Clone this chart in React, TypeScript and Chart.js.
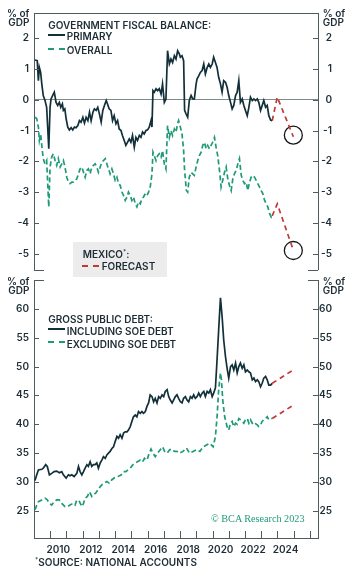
import React, { useEffect, useRef } from "react";
import { Chart, registerables } from "chart.js";

Chart.register(...registerables);

// ---------- data ----------
const X_MIN = 2009;
const X_MAX = 2026.5;

const yearTicks = [2010, 2011, 2012, 2013, 2014, 2015, 2016, 2017, 2018, 2019, 2020, 2021, 2022, 2023, 2024, 2025, 2026];
const yearLabels = [2010, 2012, 2014, 2016, 2018, 2020, 2022, 2024];
const balanceTicks = [-5, -4, -3, -2, -1, 0, 1, 2];
const debtTicks = [25, 30, 35, 40, 45, 50, 55, 60];

const primaryBalance: [number, number][] = [
  [2009.06, 1.28], [2009.2, 1.26], [2009.27, 0.61], [2009.33, 1.04], [2009.41, 0.88], [2009.48, 0.51], [2009.57, 0.13], [2009.68, -0.03], [2009.78, -0.25], [2009.91, -1.59], [2009.99, -0.25], [2010.05, 0.02], [2010.19, 0.18], [2010.25, 0.24], [2010.36, -0.09], [2010.46, -0.19], [2010.56, -0.09], [2010.65, -0.25], [2010.75, -0.14], [2010.81, -0.35], [2010.9, -0.3], [2010.98, -0.62], [2011.08, -0.89], [2011.18, -0.98], [2011.29, -0.91], [2011.39, -0.98], [2011.49, -0.89], [2011.59, -0.91], [2011.7, -0.84], [2011.8, -0.68], [2011.9, -0.73], [2012.01, -0.57], [2012.11, -0.76], [2012.21, -0.57], [2012.32, -0.68], [2012.42, -0.41], [2012.52, -0.68], [2012.63, -0.41], [2012.72, -0.3], [2012.83, -0.35], [2012.93, -0.25], [2013.03, -0.46], [2013.14, -0.73], [2013.24, -0.35], [2013.34, -0.19], [2013.45, -0.03], [2013.53, -0.14], [2013.63, -0.3], [2013.74, -0.35], [2013.84, -0.68], [2013.94, -0.52], [2014.05, -0.78], [2014.15, -0.68], [2014.25, -0.95], [2014.36, -1.0], [2014.45, -1.16], [2014.56, -1.32], [2014.66, -1.48], [2014.76, -1.38], [2014.87, -1.27], [2014.97, -1.38], [2015.07, -1.16], [2015.18, -1.54], [2015.28, -1.22], [2015.38, -1.32], [2015.49, -1.16], [2015.59, -1.22], [2015.69, -1.05], [2015.79, -1.11], [2015.9, -1.0], [2016.0, -0.98], [2016.1, -0.89], [2016.21, -0.68], [2016.27, -0.89], [2016.33, 0.29], [2016.41, 0.24], [2016.52, 0.35], [2016.62, 0.29], [2016.72, 0.35], [2016.83, 0.18], [2016.92, 0.51], [2017.03, -0.09], [2017.13, 0.02], [2017.23, 1.58], [2017.34, 1.15], [2017.44, 1.31], [2017.54, 1.2], [2017.65, 1.42], [2017.75, 1.31], [2017.85, 1.58], [2017.96, 1.47], [2018.02, 1.37], [2018.12, 1.42], [2018.22, 1.26], [2018.28, -0.35], [2018.37, -0.46], [2018.47, -0.57], [2018.57, -0.03], [2018.68, 0.13], [2018.78, 0.02], [2018.88, 0.02], [2018.99, 0.51], [2019.05, 0.67], [2019.15, 0.77], [2019.25, 0.88], [2019.36, 0.94], [2019.46, 1.15], [2019.56, 0.83], [2019.67, 1.04], [2019.77, 1.15], [2019.87, 1.04], [2019.98, 1.15], [2020.07, 1.37], [2020.18, 1.2], [2020.28, 1.04], [2020.38, 0.72], [2020.49, 0.51], [2020.59, 0.24], [2020.69, 0.61], [2020.8, 0.56], [2020.9, 0.4], [2021.0, 0.13], [2021.11, -0.09], [2021.21, -0.3], [2021.31, -0.19], [2021.42, 0.13], [2021.52, 0.24], [2021.62, 0.61], [2021.72, -0.09], [2021.83, 0.02], [2021.93, -0.19], [2022.03, -0.35], [2022.14, -0.52], [2022.24, -0.25], [2022.34, 0.08], [2022.45, -0.03], [2022.55, 0.02], [2022.65, -0.03], [2022.76, 0.02], [2022.85, -0.09], [2022.96, -0.35], [2023.06, -0.19], [2023.16, -0.03], [2023.27, -0.25], [2023.37, -0.19], [2023.47, -0.52], [2023.58, -0.66], [2023.68, -0.68],
];

const overallBalance: [number, number][] = [
  [2009.06, -0.57], [2009.17, -0.62], [2009.27, -0.89], [2009.33, -1.32], [2009.41, -1.11], [2009.49, -1.54], [2009.57, -1.91], [2009.68, -2.08], [2009.78, -1.97], [2009.91, -3.47], [2009.99, -2.18], [2010.09, -1.86], [2010.19, -1.75], [2010.3, -1.97], [2010.4, -2.13], [2010.5, -1.91], [2010.61, -2.18], [2010.71, -2.08], [2010.81, -1.97], [2010.91, -2.18], [2011.02, -2.51], [2011.12, -2.67], [2011.22, -2.72], [2011.33, -2.67], [2011.43, -2.67], [2011.53, -2.61], [2011.64, -2.56], [2011.74, -2.4], [2011.84, -2.24], [2011.95, -2.18], [2012.05, -2.35], [2012.15, -2.51], [2012.26, -2.29], [2012.35, -2.24], [2012.46, -2.4], [2012.56, -2.18], [2012.66, -2.13], [2012.77, -2.08], [2012.87, -2.18], [2012.97, -2.35], [2013.08, -2.18], [2013.18, -2.02], [2013.28, -1.97], [2013.39, -1.91], [2013.49, -2.08], [2013.59, -2.24], [2013.69, -2.4], [2013.8, -2.24], [2013.9, -2.4], [2014.0, -2.61], [2014.11, -2.51], [2014.21, -2.72], [2014.31, -2.77], [2014.42, -2.99], [2014.52, -3.1], [2014.62, -3.26], [2014.73, -3.15], [2014.82, -2.99], [2014.93, -3.1], [2015.03, -3.26], [2015.13, -3.15], [2015.24, -3.37], [2015.34, -3.47], [2015.44, -3.31], [2015.55, -3.37], [2015.65, -3.2], [2015.75, -3.15], [2015.86, -3.04], [2015.96, -3.1], [2016.06, -2.99], [2016.16, -2.83], [2016.27, -2.4], [2016.33, -1.7], [2016.41, -1.81], [2016.52, -1.97], [2016.62, -1.81], [2016.72, -1.75], [2016.83, -1.86], [2016.92, -1.65], [2017.03, -2.08], [2017.13, -2.24], [2017.23, -0.84], [2017.34, -1.22], [2017.44, -1.0], [2017.54, -1.16], [2017.65, -0.95], [2017.75, -1.05], [2017.85, -0.78], [2017.91, -0.68], [2018.02, -0.89], [2018.12, -1.11], [2018.22, -1.65], [2018.28, -2.29], [2018.39, -2.94], [2018.47, -2.99], [2018.57, -2.51], [2018.68, -2.35], [2018.78, -2.4], [2018.88, -2.45], [2018.99, -2.18], [2019.09, -1.97], [2019.19, -1.81], [2019.3, -1.7], [2019.4, -1.48], [2019.5, -1.38], [2019.61, -1.59], [2019.7, -1.48], [2019.81, -1.59], [2019.91, -1.48], [2020.01, -1.38], [2020.12, -1.22], [2020.22, -1.54], [2020.32, -1.81], [2020.43, -2.29], [2020.53, -2.83], [2020.63, -2.61], [2020.74, -2.35], [2020.84, -2.18], [2020.94, -2.56], [2021.04, -2.77], [2021.15, -2.94], [2021.25, -2.56], [2021.35, -2.4], [2021.46, -2.29], [2021.56, -2.08], [2021.66, -1.91], [2021.77, -2.45], [2021.87, -2.61], [2021.97, -2.72], [2022.08, -2.67], [2022.17, -2.94], [2022.28, -2.67], [2022.38, -2.51], [2022.48, -2.45], [2022.59, -2.51], [2022.69, -2.61], [2022.79, -2.72], [2022.9, -2.83], [2023.0, -2.94], [2023.1, -3.04], [2023.21, -3.26], [2023.31, -3.37], [2023.41, -3.47], [2023.52, -3.69], [2023.62, -3.8], [2023.68, -3.76],
];

const primaryForecast: [number, number][] = [[2023.68, -0.68], [2023.99, 0.08], [2024.98, -1.2]];
const overallForecast: [number, number][] = [[2023.68, -3.76], [2023.99, -3.37], [2024.98, -4.87]];
const forecastMarkers: [number, number][] = [[2024.98, -1.15], [2024.98, -4.88]];

const debtIncluding: [number, number][] = [
  [2009.06, 30.25], [2009.17, 31.24], [2009.27, 32.1], [2009.48, 32.2], [2009.57, 32.4], [2009.72, 33.0], [2009.82, 32.7], [2009.95, 31.24], [2010.09, 31.5], [2010.24, 31.8], [2010.4, 31.9], [2010.56, 31.6], [2010.71, 31.8], [2010.81, 31.24], [2010.98, 30.67], [2011.12, 31.24], [2011.22, 31.07], [2011.33, 31.24], [2011.47, 30.95], [2011.64, 31.5], [2011.74, 32.7], [2011.84, 31.8], [2011.95, 31.24], [2012.05, 31.8], [2012.15, 32.4], [2012.26, 33.0], [2012.35, 32.7], [2012.46, 33.5], [2012.56, 32.7], [2012.66, 33.0], [2012.77, 33.0], [2012.87, 33.3], [2012.97, 32.4], [2013.08, 33.3], [2013.18, 33.8], [2013.28, 34.4], [2013.39, 34.1], [2013.49, 34.7], [2013.59, 35.0], [2013.69, 35.3], [2013.8, 35.8], [2013.9, 36.1], [2014.0, 37.0], [2014.11, 37.9], [2014.21, 37.6], [2014.31, 38.2], [2014.42, 37.6], [2014.52, 38.5], [2014.62, 38.7], [2014.73, 38.7], [2014.82, 39.0], [2014.93, 39.6], [2015.03, 40.5], [2015.13, 41.3], [2015.24, 41.6], [2015.34, 41.3], [2015.44, 42.2], [2015.55, 41.9], [2015.65, 42.2], [2015.75, 41.9], [2015.86, 42.2], [2015.96, 43.1], [2016.06, 43.7], [2016.16, 45.1], [2016.27, 44.8], [2016.37, 43.9], [2016.47, 44.5], [2016.58, 43.7], [2016.68, 44.8], [2016.78, 44.5], [2016.89, 45.1], [2016.99, 44.8], [2017.09, 45.7], [2017.2, 46.0], [2017.3, 44.8], [2017.4, 44.2], [2017.51, 43.7], [2017.6, 44.2], [2017.71, 44.8], [2017.81, 45.1], [2017.91, 44.5], [2018.02, 43.9], [2018.12, 43.7], [2018.22, 44.5], [2018.33, 44.8], [2018.43, 44.2], [2018.53, 43.9], [2018.64, 44.8], [2018.74, 44.5], [2018.84, 45.1], [2018.94, 44.5], [2019.05, 44.8], [2019.15, 45.4], [2019.25, 44.8], [2019.36, 45.4], [2019.46, 45.7], [2019.56, 44.8], [2019.67, 45.7], [2019.77, 45.4], [2019.87, 46.0], [2019.98, 44.8], [2020.07, 45.4], [2020.18, 46.3], [2020.28, 51.2], [2020.38, 56.4], [2020.49, 61.9], [2020.59, 58.7], [2020.69, 54.6], [2020.8, 51.7], [2020.9, 49.7], [2021.0, 48.0], [2021.11, 50.0], [2021.21, 50.3], [2021.31, 49.4], [2021.42, 50.6], [2021.52, 48.9], [2021.62, 50.0], [2021.72, 50.6], [2021.83, 49.7], [2021.93, 50.3], [2022.03, 49.1], [2022.14, 49.4], [2022.24, 49.1], [2022.34, 48.9], [2022.45, 47.7], [2022.55, 48.0], [2022.65, 47.4], [2022.76, 47.7], [2022.85, 47.4], [2022.96, 46.5], [2023.06, 47.1], [2023.16, 48.0], [2023.27, 48.3], [2023.37, 47.7], [2023.47, 46.8], [2023.58, 46.8], [2023.68, 47.1],
];

const debtExcluding: [number, number][] = [
  [2009.06, 25.2], [2009.17, 26.0], [2009.27, 26.6], [2009.48, 26.9], [2009.68, 27.2], [2009.82, 26.9], [2009.95, 26.3], [2010.09, 26.0], [2010.24, 26.6], [2010.4, 26.9], [2010.56, 26.9], [2010.71, 26.3], [2010.91, 25.75], [2011.06, 25.75], [2011.22, 26.0], [2011.39, 26.3], [2011.53, 26.0], [2011.64, 26.9], [2011.8, 26.6], [2011.95, 25.75], [2012.05, 26.3], [2012.15, 27.2], [2012.29, 27.5], [2012.42, 28.3], [2012.56, 27.5], [2012.66, 27.8], [2012.81, 28.1], [2012.93, 28.6], [2013.08, 29.2], [2013.18, 29.5], [2013.32, 29.8], [2013.49, 30.1], [2013.63, 29.8], [2013.8, 30.4], [2013.94, 30.7], [2014.06, 30.9], [2014.21, 31.0], [2014.36, 31.2], [2014.52, 31.8], [2014.66, 31.8], [2014.79, 32.1], [2014.93, 32.4], [2015.1, 33.0], [2015.24, 33.3], [2015.38, 33.5], [2015.55, 33.8], [2015.69, 33.5], [2015.81, 34.1], [2015.96, 33.8], [2016.1, 35.0], [2016.21, 35.7], [2016.33, 35.0], [2016.47, 34.4], [2016.62, 35.0], [2016.78, 35.6], [2016.92, 36.1], [2017.05, 35.3], [2017.2, 35.0], [2017.36, 35.6], [2017.51, 35.7], [2017.65, 35.3], [2017.81, 35.3], [2017.96, 35.0], [2018.18, 35.3], [2018.39, 35.9], [2018.59, 35.0], [2018.8, 35.3], [2019.01, 35.6], [2019.22, 35.3], [2019.42, 36.1], [2019.63, 36.4], [2019.83, 36.7], [2020.04, 36.1], [2020.18, 37.9], [2020.28, 41.3], [2020.38, 46.0], [2020.49, 48.9], [2020.55, 47.7], [2020.63, 44.2], [2020.75, 41.3], [2020.9, 39.6], [2021.0, 39.0], [2021.11, 40.2], [2021.21, 40.5], [2021.31, 39.6], [2021.42, 40.2], [2021.52, 40.0], [2021.62, 41.0], [2021.72, 40.8], [2021.83, 40.5], [2021.93, 40.2], [2022.03, 40.8], [2022.14, 41.0], [2022.24, 40.2], [2022.34, 40.8], [2022.45, 40.2], [2022.55, 39.9], [2022.65, 40.1], [2022.76, 39.9], [2022.85, 39.6], [2022.96, 39.9], [2023.06, 40.5], [2023.16, 40.8], [2023.27, 41.0], [2023.37, 41.3], [2023.47, 40.8], [2023.58, 41.0], [2023.68, 41.0],
];

const includingForecast: [number, number][] = [[2023.68, 47.1], [2025.02, 49.5]];
const excludingForecast: [number, number][] = [[2023.68, 41.0], [2025.02, 43.4]];

// ---------- styles ----------
const NAVY = "#12303a";
const GREEN = "#1f9a78";
const RED = "#bf3a33";
const AXIS = "#4f5b5f";
const ZERO = "#7e8a8e";
const TEXT = "#1d2c35";
const FONT = "Inter, 'DejaVu Sans', sans-serif";

const toXY = (arr: [number, number][]) => arr.map(([x, y]) => ({ x, y }));

const innerTicksPlugin = {
  id: "innerTicks",
  afterDraw(chart: any, _args: any, opts: any) {
    const { ctx, chartArea } = chart;
    ctx.save();
    ctx.strokeStyle = opts.color;
    ctx.lineWidth = 1;
    for (const spec of opts.specs || []) {
      const scale = chart.scales[spec.scale];
      for (const [v, len] of spec.marks) {
        const p = Math.round(scale.getPixelForValue(v)) + 0.5;
        ctx.beginPath();
        if (spec.edge === "left") {
          ctx.moveTo(chartArea.left, p);
          ctx.lineTo(chartArea.left + len, p);
        } else if (spec.edge === "right") {
          ctx.moveTo(chartArea.right, p);
          ctx.lineTo(chartArea.right - len, p);
        } else {
          ctx.moveTo(p, chartArea.bottom);
          ctx.lineTo(p, chartArea.bottom - len);
        }
        ctx.stroke();
      }
    }
    ctx.restore();
  },
};

const tickFont = { family: FONT, size: 10, weight: "600" as const };

function yAxes(min: number, max: number, ticks: number[], zeroLine: boolean) {
  return {
    y: {
      type: "linear" as const,
      position: "left" as const,
      min,
      max,
      afterBuildTicks: (s: any) => {
        s.ticks = ticks.map((v) => ({ value: v }));
      },
      ticks: { padding: 5, color: TEXT, font: tickFont, callback: (v: any) => String(v) },
      grid: {
        display: true,
        drawTicks: false,
        lineWidth: 1,
        color: (c: any) => (zeroLine && c.tick && c.tick.value === 0 ? ZERO : "rgba(0,0,0,0)"),
      },
      border: { display: true, color: AXIS, width: 1 },
      afterFit: (s: any) => {
        s.width = 34;
        s.paddingTop = 0;
        s.paddingBottom = 0;
      },
    },
    y2: {
      type: "linear" as const,
      position: "right" as const,
      min,
      max,
      afterBuildTicks: (s: any) => {
        s.ticks = ticks.map((v) => ({ value: v }));
      },
      ticks: { padding: 5, crossAlign: "far" as const, color: TEXT, font: tickFont, callback: (v: any) => String(v) },
      grid: { display: false, drawTicks: false },
      border: { display: true, color: AXIS, width: 1 },
      afterFit: (s: any) => {
        s.width = 14;
        s.paddingTop = 0;
        s.paddingBottom = 0;
      },
    },
  };
}

const lineDs = (data: [number, number][], color: string, dash: number[] | undefined) => ({
  type: "line" as const,
  data: toXY(data),
  borderColor: color,
  borderWidth: 1.7,
  borderDash: dash || [],
  pointRadius: 0,
  tension: 0,
  fill: false,
});

export default function App() {
  const topRef = useRef<HTMLCanvasElement>(null);
  const botRef = useRef<HTMLCanvasElement>(null);

  useEffect(() => {
    const top = new Chart(topRef.current as HTMLCanvasElement, {
      type: "line",
      data: {
        datasets: [
          lineDs(overallBalance, GREEN, [5, 3]),
          lineDs(primaryBalance, NAVY, undefined),
          lineDs(primaryForecast, RED, [5, 4]),
          lineDs(overallForecast, RED, [5, 4]),
          {
            type: "scatter" as const,
            data: toXY(forecastMarkers),
            pointRadius: 9,
            pointStyle: "circle",
            pointBorderColor: "#151515",
            pointBackgroundColor: "rgba(0,0,0,0)",
            pointBorderWidth: 1.3,
            showLine: false,
          } as any,
        ],
      },
      options: {
        responsive: false,
        animation: false,
        events: [],
        layout: { padding: { top: 13, right: 20, bottom: 10, left: 0 } },
        plugins: {
          legend: { display: false },
          tooltip: { enabled: false },
          innerTicks: {
            color: AXIS,
            specs: [
              { scale: "y", edge: "left", marks: [...balanceTicks.map((v) => [v, 5]), [-5.5, 10]] },
              { scale: "y2", edge: "right", marks: [...balanceTicks.map((v) => [v, 5]), [-5.5, 10]] },
            ],
          },
        } as any,
        scales: {
          x: {
            type: "linear",
            position: "top",
            min: X_MIN,
            max: X_MAX,
            ticks: { display: false },
            grid: { display: false, drawTicks: false },
            border: { display: true, color: AXIS, width: 1 },
            afterFit: (s: any) => {
              s.height = 0;
              s.paddingLeft = 0;
              s.paddingRight = 0;
            },
          },
          ...yAxes(-5.5, 2.8, balanceTicks, true),
        } as any,
      },
      plugins: [innerTicksPlugin],
    });

    const bot = new Chart(botRef.current as HTMLCanvasElement, {
      type: "line",
      data: {
        datasets: [
          lineDs(debtExcluding, GREEN, [5, 3]),
          lineDs(debtIncluding, NAVY, undefined),
          lineDs(includingForecast, RED, [5, 4]),
          lineDs(excludingForecast, RED, [5, 4]),
        ],
      },
      options: {
        responsive: false,
        animation: false,
        events: [],
        layout: { padding: { top: 10, right: 20, bottom: 0, left: 0 } },
        plugins: {
          legend: { display: false },
          tooltip: { enabled: false },
          innerTicks: {
            color: AXIS,
            specs: [
              { scale: "y", edge: "left", marks: [...debtTicks.map((v) => [v, 5]), [65, 10]] },
              { scale: "y2", edge: "right", marks: [...debtTicks.map((v) => [v, 5]), [65, 10]] },
              { scale: "x", edge: "bottom", marks: yearTicks.map((v) => [v, 7]) },
            ],
          },
        } as any,
        scales: {
          x: {
            type: "linear",
            position: "bottom",
            min: X_MIN,
            max: X_MAX,
            afterBuildTicks: (s: any) => {
              s.ticks = yearLabels.map((y) => ({ value: y + 0.5 }));
            },
            ticks: {
              autoSkip: false,
              maxRotation: 0,
              padding: 6,
              color: TEXT,
              font: tickFont,
              callback: (v: any) => String(Math.floor(Number(v))),
            },
            grid: { display: false, drawTicks: false },
            border: { display: true, color: AXIS, width: 1 },
            afterFit: (s: any) => {
              s.height = 35;
              s.paddingLeft = 0;
              s.paddingRight = 0;
            },
          },
          ...yAxes(20.3, 65, debtTicks, false),
        } as any,
      },
      plugins: [innerTicksPlugin],
    });

    return () => {
      top.destroy();
      bot.destroy();
    };
  }, []);

  const txt: React.CSSProperties = {
    position: "absolute",
    fontFamily: FONT,
    fontSize: 10,
    fontWeight: 600,
    lineHeight: "10px",
    color: TEXT,
    whiteSpace: "nowrap",
  };
  const solid = (left: number, top: number, color: string): React.CSSProperties => ({
    position: "absolute",
    left,
    top,
    width: 17,
    height: 2,
    background: color,
  });
  const dash = (left: number, top: number, color: string): React.CSSProperties => ({
    position: "absolute",
    left,
    top,
    width: 6,
    height: 2,
    background: color,
  });

  return (
    <div style={{ position: "absolute", left: 0, top: 0, width: 352, height: 573, background: "#fff", overflow: "hidden" }}>
      <canvas ref={topRef} width={352} height={280} style={{ position: "absolute", left: 0, top: 0, width: 352, height: 280 }} />
      <canvas ref={botRef} width={352} height={303} style={{ position: "absolute", left: 0, top: 270, width: 352, height: 303 }} />

      {/* unit labels */}
      <div style={{ ...txt, left: 0, width: 29.5, textAlign: "right", top: 8 }}>% of</div>
      <div style={{ ...txt, left: 0, width: 29.5, textAlign: "right", top: 17 }}>GDP</div>
      <div style={{ ...txt, left: 322.7, top: 8 }}>% of</div>
      <div style={{ ...txt, left: 322.7, top: 17 }}>GDP</div>
      <div style={{ ...txt, left: 0, width: 29.5, textAlign: "right", top: 276.3 }}>% of</div>
      <div style={{ ...txt, left: 0, width: 29.5, textAlign: "right", top: 285.3 }}>GDP</div>
      <div style={{ ...txt, left: 322.7, top: 276.3 }}>% of</div>
      <div style={{ ...txt, left: 322.7, top: 285.3 }}>GDP</div>

      {/* top legend */}
      <div style={{ ...txt, left: 48.3, top: 20 }}>GOVERNMENT FISCAL BALANCE:</div>
      <div style={solid(48, 34, NAVY)} />
      <div style={{ ...txt, left: 66.7, top: 31.2 }}>PRIMARY</div>
      <div style={dash(48, 48, GREEN)} />
      <div style={dash(59, 48, GREEN)} />
      <div style={{ ...txt, left: 66.7, top: 45 }}>OVERALL</div>

      {/* Mexico forecast box */}
      <div style={{ position: "absolute", left: 73, top: 242, width: 94, height: 35, background: "#ececec" }} />
      <div style={{ ...txt, left: 82.7, top: 249.3 }}>
        MEXICO<sup style={{ fontSize: 6, verticalAlign: "top", lineHeight: "6px" }}>*</sup>:
      </div>
      <div style={dash(82, 265, RED)} />
      <div style={dash(93, 265, RED)} />
      <div style={{ ...txt, left: 101.7, top: 261.3 }}>FORECAST</div>

      {/* bottom legend */}
      <div style={{ ...txt, left: 48.3, top: 314 }}>GROSS PUBLIC DEBT:</div>
      <div style={solid(48, 328, NAVY)} />
      <div style={{ ...txt, left: 66.7, top: 326 }}>INCLUDING SOE DEBT</div>
      <div style={dash(48, 341, GREEN)} />
      <div style={dash(59, 341, GREEN)} />
      <div style={{ ...txt, left: 66.7, top: 338.6 }}>EXCLUDING SOE DEBT</div>

      {/* footer */}
      <div
        style={{
          position: "absolute",
          left: 211,
          top: 514,
          fontFamily: "'Liberation Serif', 'DejaVu Serif', serif",
          fontSize: 10.2,
          lineHeight: "10px",
          color: GREEN,
          whiteSpace: "nowrap",
        }}
      >
        © BCA Research 2023
      </div>
      <div style={{ ...txt, left: 35, top: 557 }}>
        <sup style={{ fontSize: 6, verticalAlign: "top", lineHeight: "6px" }}>*</sup>SOURCE: NATIONAL ACCOUNTS
      </div>
    </div>
  );
}
